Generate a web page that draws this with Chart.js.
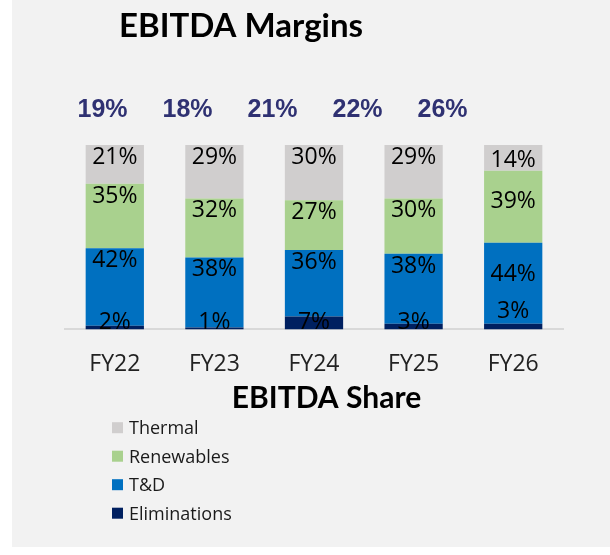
<!DOCTYPE html>
<html>
<head>
<meta charset="utf-8">
<script src="https://cdn.jsdelivr.net/npm/chart.js@4.4.1/dist/chart.umd.min.js"></script>
<style>
  html, body { margin: 0; padding: 0; background: #ffffff; }
  #panel { position: absolute; left: 12px; top: 0; width: 598px; height: 547px; background: #f2f2f2; }
  #chart { position: absolute; left: 0; top: 0; }
</style>
</head>
<body>
<div id="panel"></div>
<canvas id="chart" width="610" height="555"></canvas>
<script>
// fiscal years and EBITDA share by segment (%)
const years = ['FY22', 'FY23', 'FY24', 'FY25', 'FY26'];
const eliminations = [2, 1, 7, 3, 3];
const tnd = [42, 38, 36, 38, 44];
const renewables = [35, 32, 27, 30, 39];
const thermal = [21, 29, 30, 29, 14];
// EBITDA margin per year (%)
const margins = [19, 18, 21, 22, 26];

// a few labels in the last column sit lower/higher than the rest
const labelNudge = { 4: { Thermal: 3, Renewables: 18, 'T&D': 19, Eliminations: -11 } };

const segmentLabels = {
  id: 'segmentLabels',
  afterDatasetsDraw(chart) {
    const { ctx, scales: { y } } = chart;
    const base = y.getPixelForValue(0);
    ctx.save();
    ctx.font = '23px "Open Sans"';
    ctx.fillStyle = '#000000';
    ctx.textAlign = 'center';
    ctx.textBaseline = 'alphabetic';
    chart.data.datasets.forEach((ds, di) => {
      chart.getDatasetMeta(di).data.forEach((bar, i) => {
        const h = bar.base - bar.y;
        let cy = h < 15 ? base - 8 : bar.y + 11;
        cy += (labelNudge[i] || {})[ds.label] || 0;
        ctx.fillText(ds.data[i] + '%', bar.x, cy + 8);
      });
    });
    ctx.restore();
  }
};

// headline, margin figures and the stacked legend underneath
const extras = {
  id: 'extras',
  afterDraw(chart) {
    const { ctx, chartArea: a } = chart;
    ctx.save();
    ctx.textAlign = 'center';
    ctx.textBaseline = 'alphabetic';

    ctx.fillStyle = '#000000';
    ctx.font = 'bold 33px Lato';
    ctx.fillText('EBITDA Margins', 241, 37);

    ctx.fillStyle = '#2f3172';
    ctx.font = 'bold 25px "Liberation Sans"';
    margins.forEach((m, i) => {
      ctx.fillText(m + '%', a.left + 37.5 + 85 * i, 117);
    });

    ctx.fillStyle = '#000000';
    ctx.font = 'bold 30px Lato';
    ctx.fillText('EBITDA Share', 326.5, 408);

    const items = chart.options.plugins.legend.labels.generateLabels(chart).reverse();
    ctx.textAlign = 'left';
    ctx.font = '18px "Open Sans"';
    items.forEach((item, k) => {
      const cy = 427.7 + 28.5 * k;
      ctx.fillStyle = item.fillStyle;
      ctx.fillRect(112, cy - 5.5, 11, 11);
      ctx.fillStyle = '#1a1a1a';
      ctx.fillText(item.text, 129, cy + 6.4);
    });
    ctx.restore();
  }
};

new Chart(document.getElementById('chart'), {
  type: 'bar',
  data: {
    labels: years,
    datasets: [
      { label: 'Eliminations', data: eliminations, backgroundColor: '#002060' },
      { label: 'T&D', data: tnd, backgroundColor: '#0070c0' },
      { label: 'Renewables', data: renewables, backgroundColor: '#a9d18e' },
      { label: 'Thermal', data: thermal, backgroundColor: '#d0cece' }
    ]
  },
  options: {
    responsive: false,
    animation: false,
    devicePixelRatio: 1,
    layout: { padding: { left: 65, right: 47, top: 145, bottom: 156 } },
    datasets: { bar: { categoryPercentage: 1, barPercentage: 0.585 } },
    plugins: { legend: { display: false }, tooltip: { enabled: false }, title: { display: false } },
    scales: {
      x: {
        stacked: true,
        grid: { display: false, drawTicks: false },
        border: { display: true, color: '#d9d9d9', width: 2 },
        ticks: { color: '#222222', font: { family: 'Open Sans', size: 23 }, padding: 21 }
      },
      y: { stacked: true, display: false, min: 0, max: 100 }
    }
  },
  plugins: [segmentLabels, extras]
});
</script>
</body>
</html>
